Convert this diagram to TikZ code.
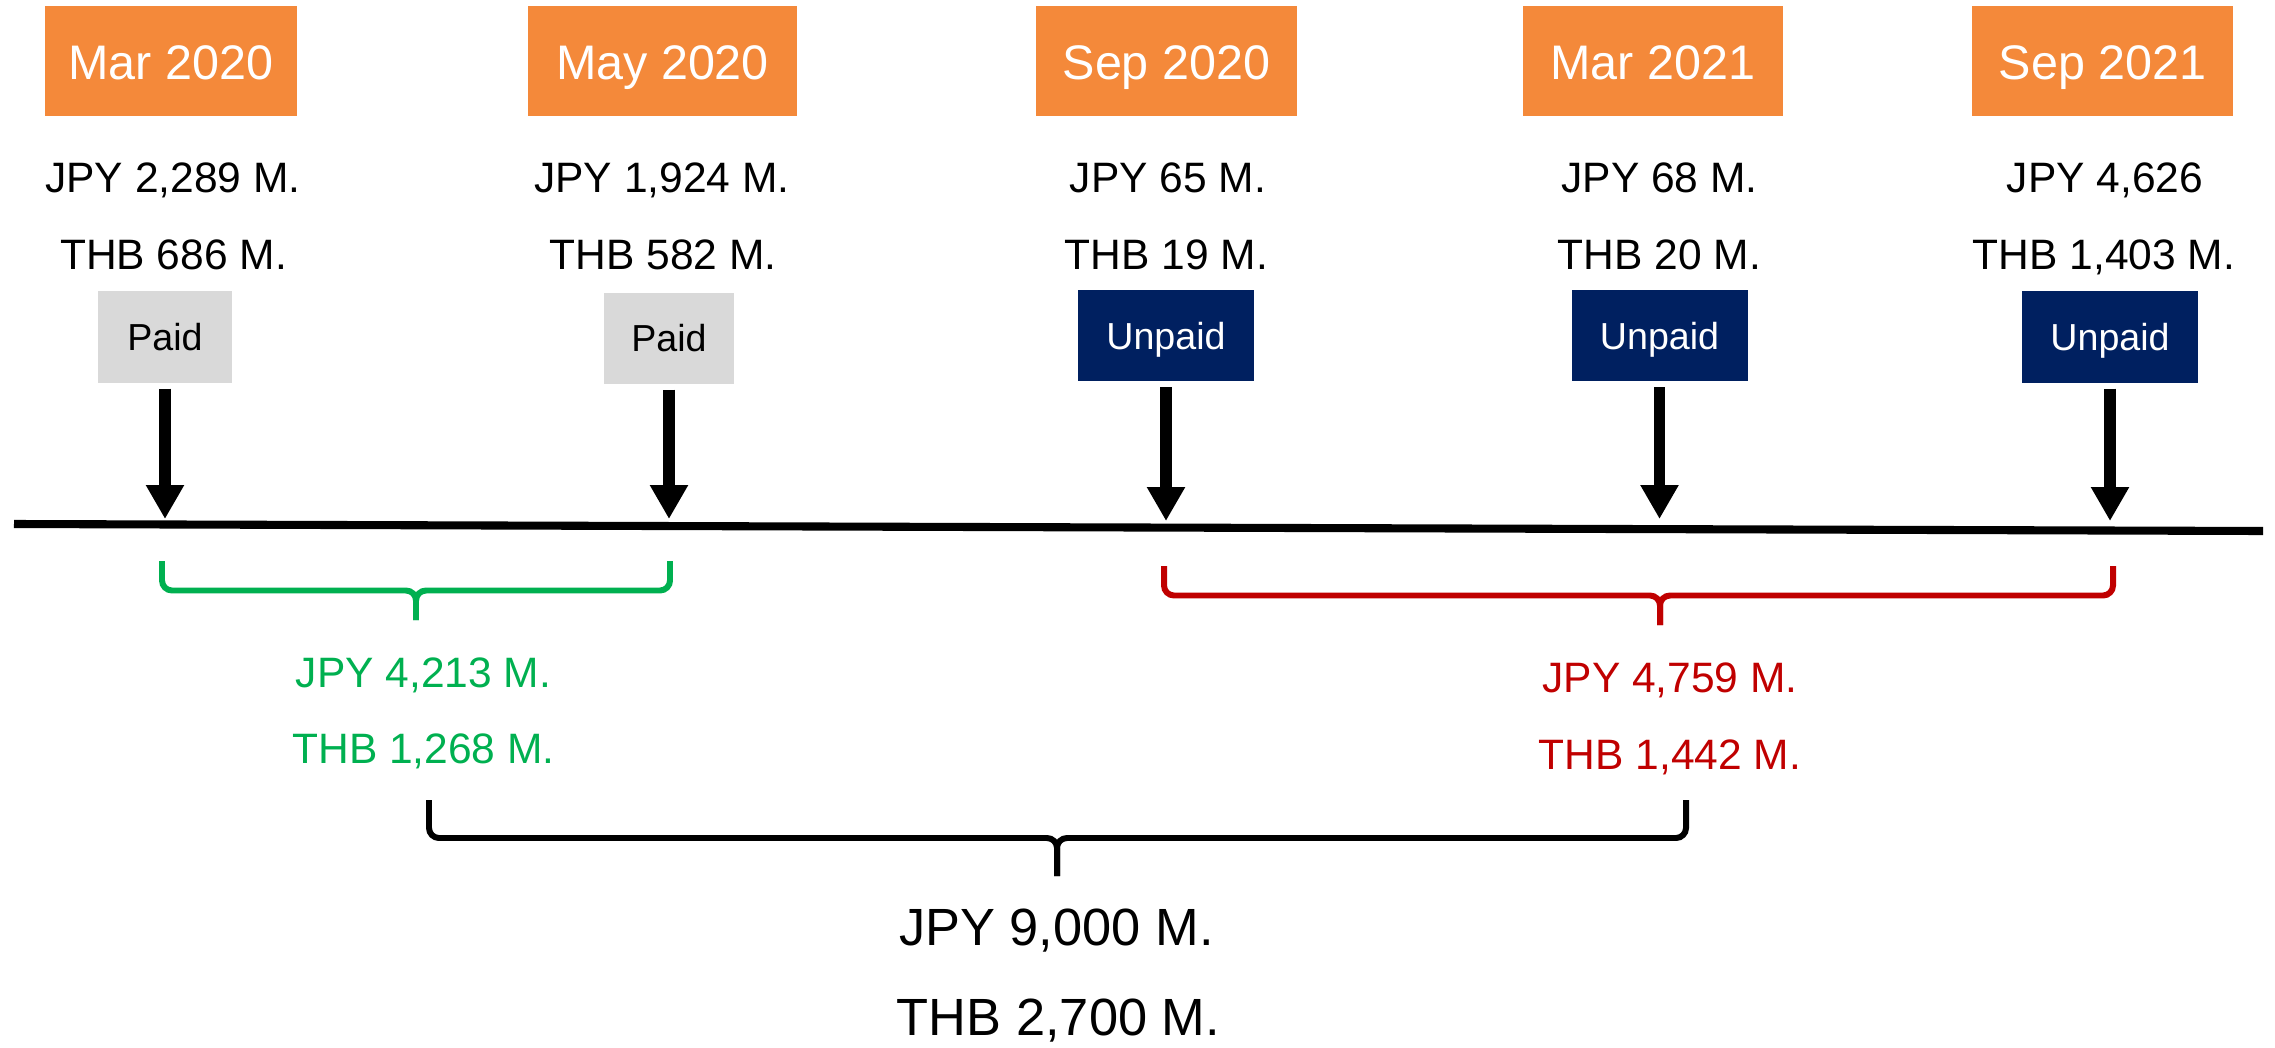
\documentclass[tikz,border=0pt]{standalone}
\usepackage{fontspec}
\setmainfont{Liberation Sans}
\usepackage{tikz}
\usetikzlibrary{arrows.meta}
\definecolor{arancio}{HTML}{F4893A}
\definecolor{blunotte}{HTML}{002060}
\definecolor{grigio}{HTML}{D9D9D9}
\definecolor{verde}{HTML}{00B050}
\definecolor{rosso}{HTML}{C00000}

\begin{document}
\begin{tikzpicture}[
    data/.style={fill=arancio, text=white, inner sep=0pt, minimum height=1.10cm,
        text height=10pt, text depth=0pt, font=\fontsize{13.8}{16}\selectfont},
    importo/.style={anchor=base, font=\fontsize{12.1}{14}\selectfont},
    totale/.style={anchor=base, font=\fontsize{14.9}{17}\selectfont},
    stato/.style={inner sep=0pt, outer sep=0pt, minimum height=0.91cm,
        text height=7.7pt, text depth=0pt, font=\fontsize{10.7}{13}\selectfont},
    pagato/.style={stato, fill=grigio, minimum width=1.34cm},
    nonpagato/.style={stato, fill=blunotte, text=white, minimum width=1.76cm},
    freccia/.style={line width=3.2pt, -{Triangle[width=0.36cm, length=0.34cm]}, shorten <=0.06cm},
    graffa/.style={line width=1.7pt, rounded corners=0.1cm}
]

\useasboundingbox (0,0) rectangle (22.75,10.47);

% Date
\node[data, minimum width=2.52cm] (d1) at (1.71,9.855) {Mar 2020};
\node[data, minimum width=2.69cm] (d2) at (6.625,9.855) {May 2020};
\node[data, minimum width=2.61cm] (d3) at (11.665,9.855) {Sep 2020};
\node[data, minimum width=2.60cm] (d4) at (16.53,9.855) {Mar 2021};
\node[data, minimum width=2.61cm] (d5) at (21.025,9.855) {Sep 2021};

% Importi delle rate
\node[importo] (j1) at (1.73,8.54) {JPY 2,289 M.};
\node[importo] (b1) at (1.735,7.77) {THB 686 M.};
\node[importo] (j2) at (6.62,8.54) {JPY 1,924 M.};
\node[importo] (b2) at (6.63,7.77) {THB 582 M.};
\node[importo] (j3) at (11.68,8.54) {JPY 65 M.};
\node[importo] (b3) at (11.665,7.77) {THB 19 M.};
\node[importo] (j4) at (16.595,8.54) {JPY 68 M.};
\node[importo] (b4) at (16.595,7.77) {THB 20 M.};
\node[importo] (j5) at (21.05,8.54) {JPY 4,626};
\node[importo] (b5) at (21.04,7.77) {THB 1,403 M.};

% Stato dei pagamenti
\node[pagato] (s1) at (1.65,7.10) {Paid};
\node[pagato, minimum width=1.30cm] (s2) at (6.69,7.09) {Paid};
\node[nonpagato] (s3) at (11.66,7.115) {Unpaid};
\node[nonpagato] (s4) at (16.595,7.115) {Unpaid};
\node[nonpagato] (s5) at (21.10,7.10) {Unpaid};

% Linea temporale
\coordinate (inizio) at (0.14,5.23);
\coordinate (fine) at (22.63,5.16);
\draw[line width=2.3pt] (inizio) -- (fine);

% Frecce
\coordinate (q1) at (1.65,5.28);
\coordinate (q2) at (6.69,5.28);
\coordinate (q3) at (11.66,5.26);
\coordinate (q4) at (16.595,5.28);
\coordinate (q5) at (21.10,5.26);
\foreach \i in {1,...,5}
    \draw[freccia] (s\i) -- (q\i);

% Graffe
\foreach \sx/\mx/\dx/\y/\h/\col in {1.62/4.16/6.70/4.86/0.295/verde,
                                    11.64/16.60/21.13/4.81/0.295/rosso,
                                    4.29/10.57/16.86/2.47/0.38/black}
{
    \draw[graffa,\col] (\sx,\y) -- (\sx,\y-\h) -- (\mx,\y-\h) -- (\mx,\y-2*\h);
    \draw[graffa,\col] (\dx,\y) -- (\dx,\y-\h) -- (\mx,\y-\h) -- (\mx,\y-2*\h);
}

% Totali
\node[importo, text=verde] (g1) at (4.235,3.60) {JPY 4,213 M.};
\node[importo, text=verde] (g2) at (4.235,2.84) {THB 1,268 M.};
\node[importo, text=rosso] (r1) at (16.70,3.55) {JPY 4,759 M.};
\node[importo, text=rosso] (r2) at (16.70,2.78) {THB 1,442 M.};
\node[totale] (t1) at (10.565,1.02) {JPY 9,000 M.};
\node[totale] (t2) at (10.585,0.12) {THB 2,700 M.};
\end{tikzpicture}
\end{document}
